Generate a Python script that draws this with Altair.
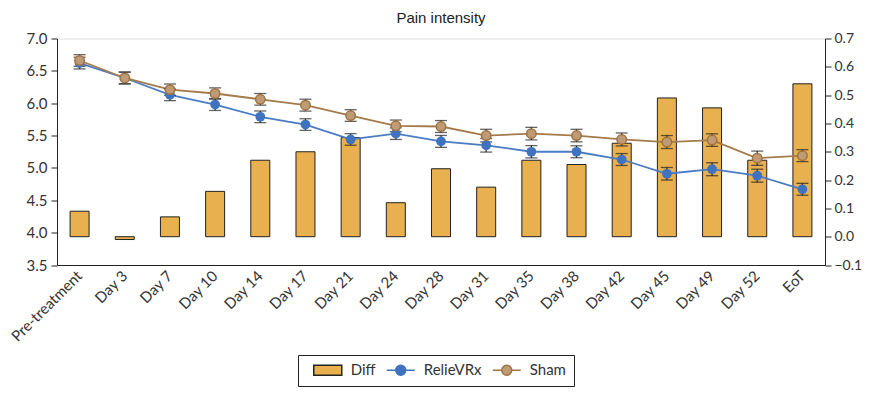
import altair as alt
import pandas as pd

categories = ["Pre-treatment", "Day 3", "Day 7", "Day 10", "Day 14", "Day 17", "Day 21",
              "Day 24", "Day 28", "Day 31", "Day 35", "Day 38", "Day 42", "Day 45",
              "Day 49", "Day 52", "EoT"]
relievrx = [6.62, 6.39, 6.13, 5.98, 5.79, 5.67, 5.44, 5.53, 5.41, 5.35, 5.25, 5.25, 5.13, 4.91, 4.98, 4.88, 4.67]
relievrx_err = [0.09, 0.09, 0.09, 0.092, 0.09, 0.09, 0.09, 0.09, 0.092, 0.105, 0.095, 0.092, 0.092, 0.097, 0.10, 0.10, 0.092]
sham = [6.66, 6.39, 6.21, 6.15, 6.06, 5.97, 5.81, 5.65, 5.64, 5.50, 5.53, 5.50, 5.44, 5.40, 5.43, 5.15, 5.19]
sham_err = [0.09, 0.092, 0.087, 0.087, 0.09, 0.092, 0.09, 0.09, 0.092, 0.097, 0.097, 0.097, 0.10, 0.10, 0.097, 0.11, 0.092]
diff = [0.09, -0.01, 0.07, 0.16, 0.27, 0.30, 0.35, 0.12, 0.24, 0.175, 0.27, 0.255, 0.33, 0.49, 0.455, 0.27, 0.54]
series_names = ["Diff", "RelieVRx", "Sham"]
left_ticks = [3.5, 4.0, 4.5, 5.0, 5.5, 6.0, 6.5, 7.0]
right_ticks = [-0.1, 0.0, 0.1, 0.2, 0.3, 0.4, 0.5, 0.6, 0.7]

GOLD = "#E8B04E"
BLUE = "#3F72BF"
BLUE_LINE = "#4A7CC5"
TAN = "#BE9B76"
BROWN = "#A0733F"
DARK = "#222222"
FONT = "Lato"

df = pd.DataFrame({"cat": categories, "diff": diff})

long_rows = []
for name, vals, errs in [("RelieVRx", relievrx, relievrx_err), ("Sham", sham, sham_err)]:
    for c, v, e in zip(categories, vals, errs):
        long_rows.append({"cat": c, "series": name, "value": v, "lo": v - e, "hi": v + e})
long_df = pd.DataFrame(long_rows)

xenc = alt.X("cat:N", sort=categories,
             scale=alt.Scale(paddingInner=0, paddingOuter=0),
             axis=alt.Axis(title=None, labelAngle=-45, labelAlign="right", labelBaseline="middle",
                           labelFont=FONT, labelFontSize=15, labelColor="#333", ticks=False,
                           labelPadding=8, domainColor=DARK, labelOverlap=False))

left_axis = alt.Axis(orient="left", values=left_ticks, format=".1f", title=None, grid=False,
                     labelFont=FONT, labelFontSize=15, labelColor="#333", tickColor=DARK,
                     tickSize=6, labelPadding=4, domainColor=DARK)
left_scale = alt.Scale(domain=[3.5, 7.0], nice=False, zero=False)


def ly(field):
    return alt.Y(field, scale=left_scale, axis=left_axis)


bars = alt.Chart(df).mark_bar(size=19, color=GOLD, stroke=DARK, strokeWidth=1).encode(
    x=xenc,
    y=alt.Y("diff:Q", scale=alt.Scale(domain=[-0.1, 0.7], nice=False, zero=False),
            axis=alt.Axis(orient="right", values=right_ticks, format=".1f", title=None, grid=False,
                          labelFont=FONT, labelFontSize=14, labelColor="#333", tickColor=DARK,
                          tickSize=6, labelPadding=3, domainColor=DARK)),
    y2=alt.datum(0),
)

base = alt.Chart(long_df)

relie_line = base.transform_filter(alt.datum.series == "RelieVRx").mark_line(
    color=BLUE_LINE, strokeWidth=1.8).encode(x=xenc, y=ly("value:Q"))
sham_line = base.transform_filter(alt.datum.series == "Sham").mark_line(
    color="#A57A4A", strokeWidth=1.8).encode(x=xenc, y=ly("value:Q"))

err_rule = base.mark_rule(color=DARK, strokeWidth=1.2).encode(x=xenc, y=ly("lo:Q"), y2="hi:Q")
cap_lo = base.mark_tick(color=DARK, size=12, thickness=1.3).encode(x=xenc, y=ly("lo:Q"))
cap_hi = base.mark_tick(color=DARK, size=12, thickness=1.3).encode(x=xenc, y=ly("hi:Q"))

relie_pts = base.transform_filter(alt.datum.series == "RelieVRx").mark_point(
    filled=True, size=95, color=BLUE, opacity=1).encode(x=xenc, y=ly("value:Q"))
sham_pts = base.transform_filter(alt.datum.series == "Sham").mark_point(
    filled=True, size=90, fill=TAN, stroke=BROWN, strokeWidth=1.5, opacity=1).encode(x=xenc, y=ly("value:Q"))

RECT = "M-2.8,-1H2.8V1H-2.8Z"
LINECIRC = "M-2.8,0H-1M1,0H2.8M-1,0A1,1 0 1,1 1,0A1,1 0 1,1 -1,0Z"

leg = alt.Legend(orient="none", legendX=241, legendY=316.5, direction="horizontal", title=None,
                 strokeColor=DARK, padding=7.5, symbolSize=100, symbolStrokeWidth=1.5,
                 labelFont=FONT, labelFontSize=15, labelColor="#333", labelOffset=15.5,
                 columnPadding=2, symbolOffset=14.75)

legend_df = pd.DataFrame({"series": series_names})
legend_layer = alt.Chart(legend_df).mark_point(filled=True, clip=True, opacity=1, strokeWidth=1.5).encode(
    x=alt.value(-300), y=alt.value(-300),
    shape=alt.Shape("series:N", sort=series_names,
                    scale=alt.Scale(domain=series_names, range=[RECT, LINECIRC, LINECIRC]), legend=leg),
    fill=alt.Fill("series:N", sort=series_names,
                  scale=alt.Scale(domain=series_names, range=[GOLD, BLUE, TAN]), legend=leg),
    stroke=alt.Stroke("series:N", sort=series_names,
                      scale=alt.Scale(domain=series_names, range=[DARK, BLUE, BROWN]), legend=leg),
)

left = alt.layer(relie_line, sham_line, err_rule, cap_lo, cap_hi, relie_pts, sham_pts, legend_layer)

chart = alt.layer(bars, left).resolve_scale(y="independent").properties(
    width=768, height=226.5,
    padding={"left": 49, "top": 30.5, "right": 37, "bottom": 124},
    autosize=alt.AutoSizeParams(type="none"),
    title=alt.Title("Pain intensity", font="Liberation Sans", fontSize=15, fontWeight="normal",
                    color="#222", anchor="middle", offset=6),
).configure_view(stroke=DARK, strokeWidth=1).configure(background="white")

chart.save("out.html", embed_options={"renderer": "svg", "actions": False})
